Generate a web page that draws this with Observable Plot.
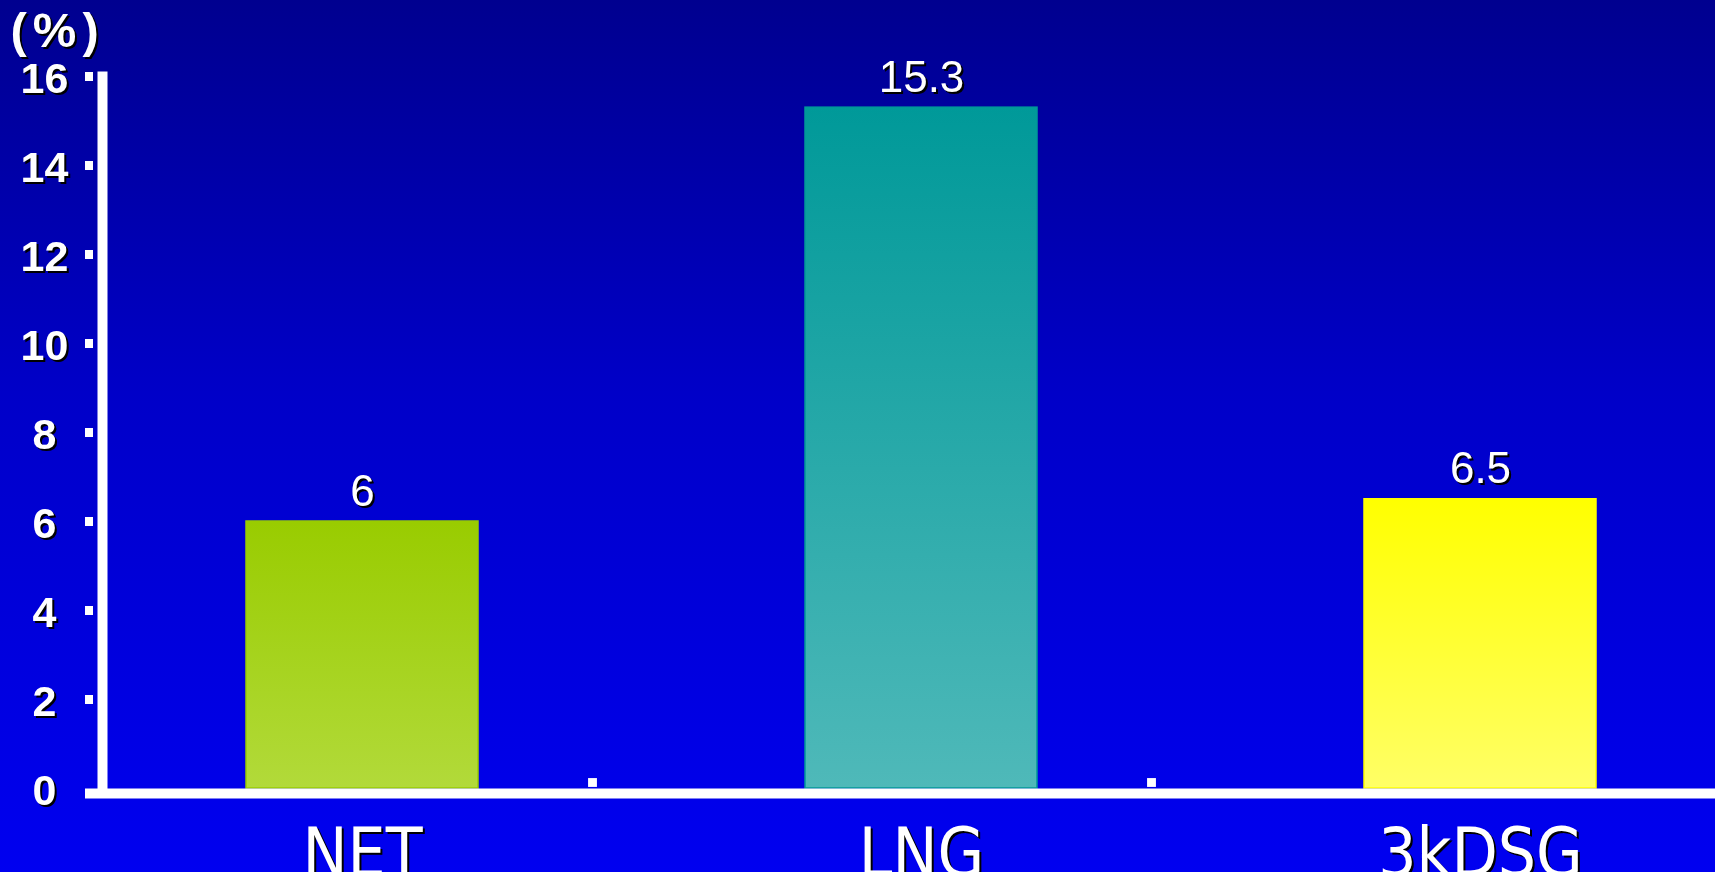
<!DOCTYPE html>
<html>
<head>
<meta charset="utf-8">
<script src="https://cdn.jsdelivr.net/npm/d3@7"></script>
<script src="https://cdn.jsdelivr.net/npm/@observablehq/plot@0.6"></script>
<style>
  html, body { margin: 0; padding: 0; overflow: hidden; }
  body { width: 1715px; height: 872px; }
  #chart svg text { filter: drop-shadow(2px 2px 0 #000); }
</style>
</head>
<body>
<div id="chart"></div>
<script>
// Share of each fuel (%)
const categories = ["NET", "LNG", "3kDSG"];
const values = [6, 15.3, 6.5];
const yTicks = [0, 2, 4, 6, 8, 10, 12, 14, 16];
const unitLabel = "(%)";

// Vertical gradient for each bar: top colour, bottom colour
const barTop = ["#99cc00", "#009999", "#ffff00"];
const barBottom = ["#b2da3a", "#4fb9b9", "#ffff66"];

const data = categories.map((c, i) => ({category: c, value: values[i]}));
const gradId = (i) => `bar-grad-${i}`;

const svg = Plot.plot({
  width: 1715,
  height: 872,
  marginLeft: 85,
  marginRight: 0,
  marginTop: 76,
  marginBottom: 84,
  style: {
    background: "linear-gradient(to bottom, #00008f 0%, #0000c8 45%, #0000f0 100%)",
    color: "white",
    fontFamily: "'Liberation Sans', Arial, sans-serif",
    overflow: "visible"
  },
  x: {type: "band", domain: categories, range: [245, 1596], paddingInner: 0.585, paddingOuter: 0},
  y: {domain: [0, 16]},
  color: {domain: categories, range: categories.map((c, i) => `url(#${gradId(i)})`)},
  marks: [
    Plot.barY(data, {
      x: "category", y: "value", fill: "category",
      stroke: (d) => barTop[categories.indexOf(d.category)], strokeWidth: 1.5
    }),
    // left axis line and baseline
    Plot.frame({anchor: "left", stroke: "white", strokeWidth: 10, dx: 17}),
    Plot.ruleY([0], {stroke: "white", strokeWidth: 10, dy: 5}),
    // small square markers between categories
    Plot.dot(categories.slice(0, 2), {
      x: (d) => d, y: 0, symbol: "square", r: 5, fill: "white", stroke: null, dx: 230, dy: -6
    }),
    // y tick marks (no mark at zero; the baseline covers it)
    Plot.axisY({
      ticks: yTicks.filter((t) => t !== 0), tickSize: 8, dx: 8, strokeWidth: 9,
      tickFormat: () => "", label: null, stroke: "white"
    }),
    // y tick labels
    Plot.axisY({
      ticks: yTicks, tickSize: 0, tickPadding: 41, textAnchor: "middle",
      fontSize: 43, fontWeight: "bold", dy: 3, label: null, fill: "white"
    }),
    // category labels
    Plot.axisX({
      tickSize: 0, tickPadding: 40, fontSize: 67, label: null, fill: "white",
      fontFamily: "'Liberation Sans Narrow', 'DejaVu Sans Condensed', 'Liberation Sans', sans-serif"
    }),
    // value labels above bars
    Plot.text(data, {
      x: "category", y: "value", text: (d) => String(d.value),
      lineAnchor: "bottom", dy: -16, fontSize: 44, fill: "white"
    }),
    // unit label
    Plot.text([unitLabel], {
      frameAnchor: "top-left", text: (d) => d, textAnchor: "start", lineAnchor: "bottom",
      dx: -75, dy: -30, fontSize: 49, fontWeight: "bold", fill: "white"
    })
  ]
});

// spread the unit label's glyphs apart
d3.select(svg).selectAll("text")
  .filter(function () { return this.textContent === unitLabel; })
  .style("letter-spacing", "6px");

// gradient definitions used by the bar fills
const defs = d3.select(svg).insert("defs", ":first-child");
categories.forEach((c, i) => {
  const g = defs.append("linearGradient")
    .attr("id", gradId(i))
    .attr("x1", 0).attr("y1", 0).attr("x2", 0).attr("y2", 1);
  g.append("stop").attr("offset", "0%").attr("stop-color", barTop[i]);
  g.append("stop").attr("offset", "100%").attr("stop-color", barBottom[i]);
});

document.getElementById("chart").appendChild(svg);
</script>
</body>
</html>
